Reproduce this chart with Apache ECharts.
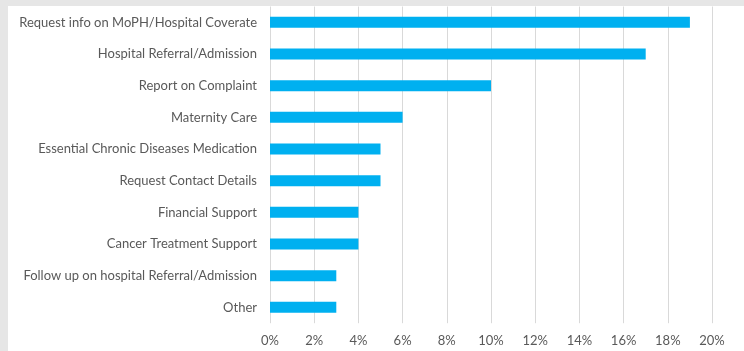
<!DOCTYPE html>
<html>
<head>
<meta charset="utf-8">
<script src="https://cdn.jsdelivr.net/npm/echarts@6/dist/echarts.min.js"></script>
<style>
html,body{margin:0;padding:0;width:744px;height:351px;background:#e6e6e6;overflow:hidden;}
#chart{position:absolute;left:8px;top:6px;width:736px;height:345px;background:#ffffff;}
</style>
</head>
<body>
<div id="chart"></div>
<script>
const categories = [
  "Request info on MoPH/Hospital Coverate",
  "Hospital Referral/Admission",
  "Report on Complaint",
  "Maternity Care",
  "Essential Chronic Diseases Medication",
  "Request Contact Details",
  "Financial Support",
  "Cancer Treatment Support",
  "Follow up on hospital Referral/Admission",
  "Other"
];
const values = [19, 17, 10, 6, 5, 5, 4, 4, 3, 3];
const xTicks = { min: 0, max: 20, interval: 2 };

const chart = echarts.init(document.getElementById('chart'), null, {renderer: 'canvas'});
chart.setOption({
  animation: false,
  grid: { left: 262, right: 32, top: 0.5, bottom: 27.8, containLabel: false },
  xAxis: {
    type: 'value',
    min: xTicks.min, max: xTicks.max, interval: xTicks.interval,
    axisLine: { show: false },
    axisTick: { show: false },
    splitLine: { show: true, lineStyle: { color: '#d9d9d9', width: 1 } },
    axisLabel: {
      formatter: v => v + '%',
      color: '#595959',
      fontFamily: 'Lato, sans-serif',
      fontSize: 13,
      margin: 11
    }
  },
  yAxis: {
    type: 'category',
    data: categories,
    inverse: true,
    axisLine: { show: false },
    axisTick: { show: false },
    splitLine: { show: false },
    axisLabel: {
      color: '#595959',
      fontFamily: 'Lato, sans-serif',
      fontSize: 13,
      margin: 13
    }
  },
  series: [{
    type: 'bar',
    data: values,
    barWidth: 11,
    itemStyle: { color: '#00b0f0' }
  }]
});
</script>
</body>
</html>
